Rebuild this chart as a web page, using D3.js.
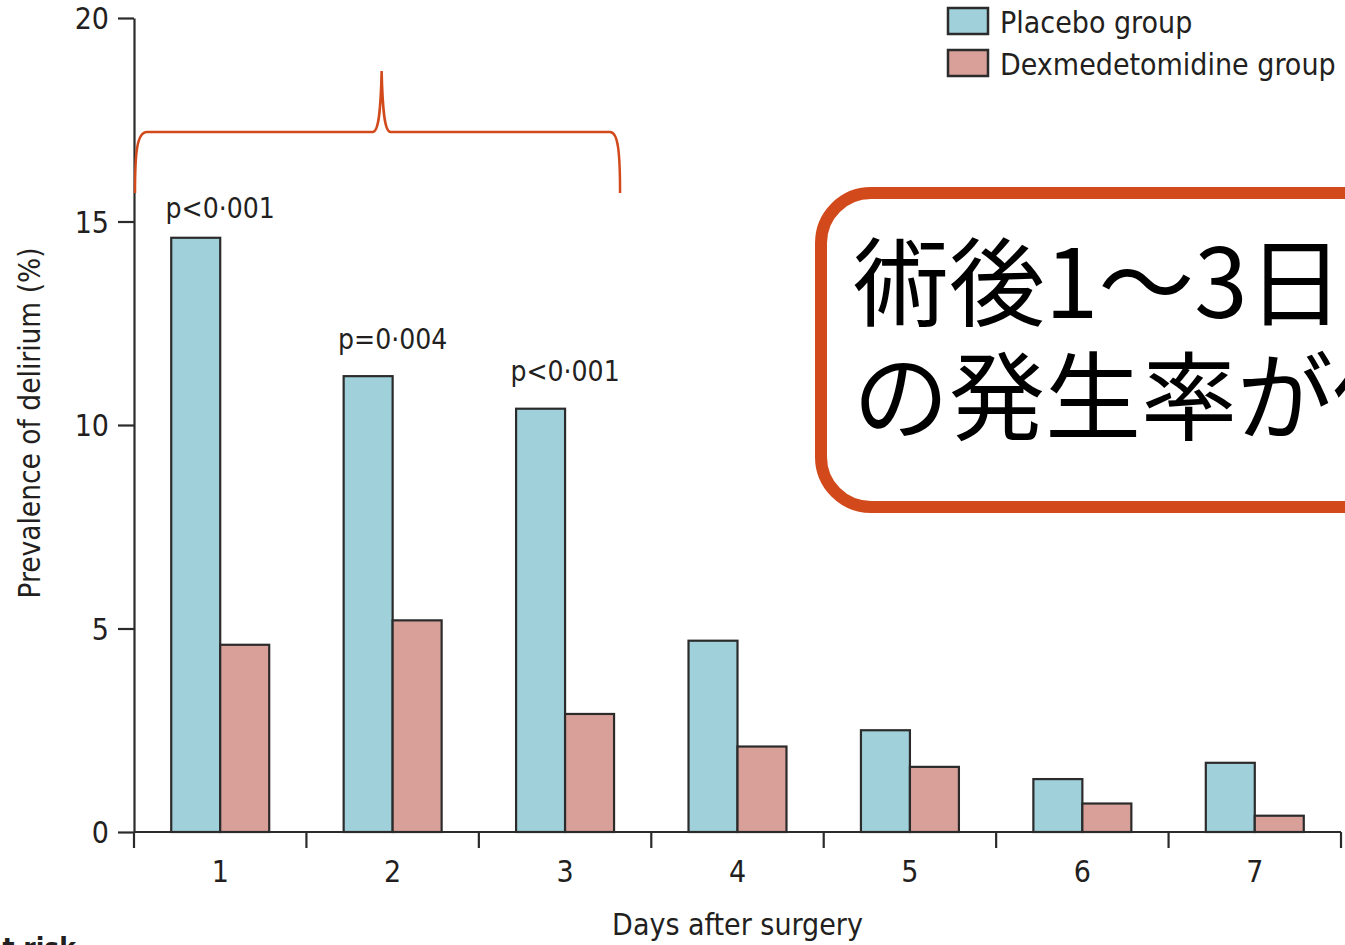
<!DOCTYPE html>
<html>
<head>
<meta charset="utf-8">
<script src="https://cdn.jsdelivr.net/npm/d3@7"></script>
<style>
  html, body { margin: 0; padding: 0; background: #fff; }
  svg { display: block; }
  .lbl { font-family: "Liberation Sans Narrow", "DejaVu Sans Condensed", "Open Sans", sans-serif; fill: #231f20; }
</style>
</head>
<body>
<svg id="chart" width="1345" height="945"></svg>
<script>
// Delirium prevalence by day after surgery
const days = ["1", "2", "3", "4", "5", "6", "7"];
const groups = ["placebo", "dex"];
const groupNames = ["Placebo group", "Dexmedetomidine group"];
const placebo = [14.6, 11.2, 10.4, 4.7, 2.5, 1.3, 1.7];
const dex = [4.6, 5.2, 2.9, 2.1, 1.6, 0.7, 0.4];
const yTicks = [0, 5, 10, 15, 20];
const pDays = ["1", "2", "3"];
const pTexts = ["p<0·001", "p=0·004", "p<0·001"];
const calloutLines = ["術後1～3日目の", "の発生率が低"];

const colors = { placebo: "#a0d1db", dex: "#d9a09a" };
const ink = "#2b2b2b";
const pLift = [20, 27, 28];   // gap between label baseline and bar top

const svg = d3.select("#chart");

const x = d3.scaleBand().domain(days).range([134, 1341]).paddingInner(0).paddingOuter(0);
const xSub = d3.scaleBand().domain(groups).range([0, x.bandwidth()]).paddingInner(0).paddingOuter(0.76);
const y = d3.scaleLinear().domain([0, 20]).range([832, 18]);

const rows = days.map((d, i) => ({ day: d, placebo: placebo[i], dex: dex[i] }));

// bars
const g = svg.append("g");
rows.forEach(r => {
  groups.forEach(k => {
    g.append("rect")
      .attr("x", x(r.day) + xSub(k))
      .attr("y", y(r[k]))
      .attr("width", xSub.bandwidth())
      .attr("height", y(0) - y(r[k]))
      .attr("fill", colors[k])
      .attr("stroke", ink)
      .attr("stroke-width", 2.2);
  });
});

// y axis
const yAxis = svg.append("g")
  .attr("transform", `translate(${x.range()[0]},0)`)
  .call(d3.axisLeft(y).tickValues(yTicks).tickSize(16).tickSizeOuter(0).tickPadding(9));
yAxis.select(".domain").attr("stroke", ink).attr("stroke-width", 2.2);
yAxis.selectAll(".tick line").attr("stroke", ink).attr("stroke-width", 2.2);
yAxis.selectAll(".tick text").attr("class", "lbl").attr("font-size", 30).attr("dy", "0.36em");

// x axis: labels at band centres, ticks on band edges
const xAxis = svg.append("g")
  .attr("transform", `translate(0,${y(0)})`)
  .call(d3.axisBottom(x).tickSize(0).tickSizeOuter(0).tickPadding(0));
xAxis.select(".domain").attr("stroke", ink).attr("stroke-width", 2.2)
  .attr("d", `M${x.range()[0]},0H${x.range()[1]}`);
xAxis.selectAll(".tick text").attr("class", "lbl").attr("font-size", 30).attr("y", 50).attr("dy", 0);
const edges = days.map(d => x(d)).concat([x(days[days.length - 1]) + x.bandwidth()]);
xAxis.selectAll("line.edge").data(edges).enter().append("line")
  .attr("class", "edge")
  .attr("x1", d => d).attr("x2", d => d)
  .attr("y1", 0).attr("y2", 16)
  .attr("stroke", ink).attr("stroke-width", 2.2);

// axis titles
svg.append("text").attr("class", "lbl")
  .attr("x", (x.range()[0] + x.range()[1]) / 2).attr("y", 935)
  .attr("text-anchor", "middle").attr("font-size", 30)
  .text("Days after surgery");
svg.append("text").attr("class", "lbl")
  .attr("transform", `translate(40,${(y(15) + y(5)) / 2 - 2}) rotate(-90)`)
  .attr("text-anchor", "middle").attr("font-size", 29.5)
  .text("Prevalence of delirium (%)");

// p-values above the first three days
pDays.forEach((d, j) => {
  const i = days.indexOf(d);
  svg.append("text").attr("class", "lbl")
    .attr("x", x(d) + x.bandwidth() / 2)
    .attr("y", y(placebo[i]) - pLift[j])
    .attr("text-anchor", "middle").attr("font-size", 28)
    .text(pTexts[j]);
});

// legend
const legend = svg.append("g").attr("transform", "translate(948,8)");
groups.forEach((k, i) => {
  legend.append("rect")
    .attr("x", 0).attr("y", i * 42)
    .attr("width", 40).attr("height", 26)
    .attr("fill", colors[k]).attr("stroke", ink).attr("stroke-width", 2.5);
  legend.append("text").attr("class", "lbl")
    .attr("x", 52).attr("y", i * 42 + 25)
    .attr("font-size", 30)
    .text(groupNames[i]);
});

// brace spanning days 1-3
const accent = "#d24a1c";
const bx0 = x("1") + 1;
const bx1 = x("3") + xSub("dex") + xSub.bandwidth() + 6;
const bmid = (x("1") + x("3") + x.bandwidth()) / 2 - 11;
const yEnd = y(15.7), yBar = y(17.2), yPeak = y(18.7);
const brace = d3.path();
brace.moveTo(bx0, yEnd);
brace.bezierCurveTo(bx0, yBar + 20, bx0 + 2, yBar, bx0 + 12, yBar);
brace.lineTo(bmid - 9, yBar);
brace.bezierCurveTo(bmid - 3, yBar, bmid - 1, yBar - 20, bmid, yPeak);
brace.bezierCurveTo(bmid + 1, yBar - 20, bmid + 3, yBar, bmid + 9, yBar);
brace.lineTo(bx1 - 10, yBar);
brace.bezierCurveTo(bx1 - 2, yBar, bx1, yBar + 20, bx1, yEnd);
svg.append("path").attr("d", brace.toString())
  .attr("fill", "none").attr("stroke", accent).attr("stroke-width", 2.5);

// callout box
svg.append("rect")
  .attr("x", 821).attr("y", 193)
  .attr("width", 700).attr("height", 314)
  .attr("rx", 50).attr("ry", 50)
  .attr("fill", "#fff").attr("stroke", accent).attr("stroke-width", 12);
calloutLines.forEach((t, i) => {
  svg.append("text")
    .attr("x", 853).attr("y", 318 + i * 114)
    .attr("font-family", "'Noto Sans CJK JP', sans-serif")
    .attr("font-size", 96).attr("fill", "#000")
    .text(t);
});

// start of the at-risk table below
svg.append("text").attr("class", "lbl")
  .attr("x", 76).attr("y", 958)
  .attr("text-anchor", "end").attr("font-size", 28).attr("font-weight", "bold")
  .text("Number at risk");
</script>
</body>
</html>
